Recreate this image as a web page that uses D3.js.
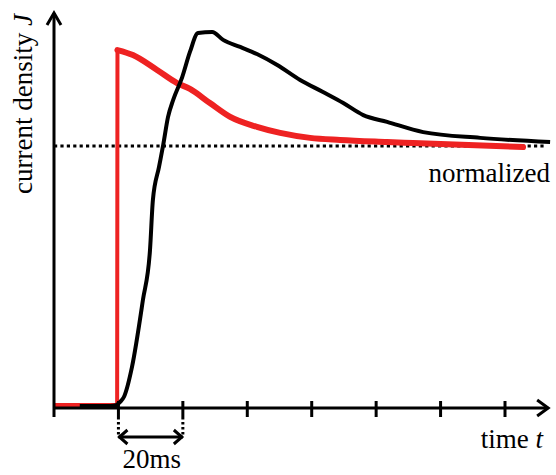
<!DOCTYPE html>
<html>
<head>
<meta charset="utf-8">
<script src="https://d3js.org/d3.v7.min.js"></script>
<style>
  body { margin: 0; background: #fff; }
  text { font-family: "Liberation Serif", "Times New Roman", serif; fill: #000; }
</style>
</head>
<body>
<svg width="556" height="475"></svg>
<script>
// time in ms, current density normalized to steady state (1 = "normalized")
const blackT = [8, 14.3, 17.4, 19.3, 20.5, 21.7, 24.2, 27.6, 29.8, 30.7, 32.6, 33.9, 35.4, 37.0, 39.8, 42.2, 44.7, 49.1, 52.5, 57.8, 63.0, 69.3, 76.4, 83.5, 89.8, 96.0, 103.4, 114.6, 132.3, 154.0];
const blackJ = [0.008, 0.008, 0.008, 0.011, 0.023, 0.042, 0.156, 0.412, 0.603, 0.794, 0.920, 1.004, 1.111, 1.176, 1.263, 1.359, 1.431, 1.435, 1.405, 1.378, 1.351, 1.309, 1.252, 1.206, 1.164, 1.118, 1.092, 1.053, 1.031, 1.015];

const redT = [0, 19.6, 19.7, 24.5, 32.0, 38.2, 42.2, 48.4, 54.7, 63.0, 70.2, 79.5, 88.8, 103.4, 111.5, 145.6];
const redJ = [0.011, 0.011, 1.366, 1.347, 1.290, 1.240, 1.218, 1.164, 1.111, 1.073, 1.050, 1.031, 1.023, 1.015, 1.011, 0.996];

const tickValues = [20, 40, 60, 80, 100, 120, 140];
const spanMarks = [20, 40];   // the "20ms" bracket
const normalizedLevel = 1;

const svg = d3.select("svg");

const x = d3.scaleLinear().domain([0, 140]).range([54, 505]);
const y = d3.scaleLinear().domain([0, 1]).range([408, 146]);

const xEnd = x(153.4);
const yTop = y(1.508);

// dotted "normalized" level
svg.append("line")
  .attr("x1", x(0)).attr("x2", xEnd - 2)
  .attr("y1", y(normalizedLevel)).attr("y2", y(normalizedLevel))
  .attr("stroke", "#000").attr("stroke-width", 3)
  .attr("stroke-dasharray", "3.2,3.2");

const line = d3.line().x(d => x(d[0])).y(d => y(d[1]));
const smooth = d3.line().x(d => x(d[0])).y(d => y(d[1])).curve(d3.curveMonotoneX);

// red curve: thin step up, thick decay
const red = redT.map((t, i) => [t, redJ[i]]);
svg.append("path")
  .attr("d", line(red.slice(0, 3)))
  .attr("fill", "none").attr("stroke", "#ee2222").attr("stroke-width", 4);
svg.append("path")
  .attr("d", smooth(red.slice(2)))
  .attr("fill", "none").attr("stroke", "#ee2222").attr("stroke-width", 6)
  .attr("stroke-linejoin", "round").attr("stroke-linecap", "round");

// black curve
const black = blackT.map((t, i) => [t, blackJ[i]]);
svg.append("path")
  .attr("d", smooth(black))
  .attr("fill", "none").attr("stroke", "#000").attr("stroke-width", 4)
  .attr("stroke-linejoin", "round");

// axes
const axis = svg.append("g").attr("stroke", "#000").attr("stroke-width", 3).attr("fill", "none");
axis.append("line").attr("x1", x(0)).attr("x2", x(0)).attr("y1", 417).attr("y2", yTop);
axis.append("line").attr("x1", x(0) - 1).attr("x2", xEnd).attr("y1", y(0)).attr("y2", y(0));
axis.append("path")
  .attr("d", `M${x(0) - 7},${yTop + 12}L${x(0)},${yTop}L${x(0) + 7},${yTop + 12}`);
axis.append("path")
  .attr("d", `M${xEnd - 11},${y(0) - 8}L${xEnd},${y(0)}L${xEnd - 11},${y(0) + 8}`);

axis.selectAll("line.tick")
  .data(tickValues)
  .enter()
  .append("line")
  .attr("class", "tick")
  .attr("x1", d => x(d)).attr("x2", d => x(d))
  .attr("y1", y(0) - 7).attr("y2", y(0) + 9);

// 20ms bracket
axis.selectAll("line.guide")
  .data(spanMarks)
  .enter()
  .append("line")
  .attr("class", "guide")
  .attr("x1", d => x(d)).attr("x2", d => x(d))
  .attr("y1", y(0) + 9).attr("y2", 437)
  .attr("stroke-dasharray", "2.5,2.5");

const ya = 437;
const xa = x(spanMarks[0]), xb = x(spanMarks[1]);
axis.append("line").attr("x1", xa).attr("x2", xb).attr("y1", ya).attr("y2", ya);
axis.append("path").attr("d", `M${xa + 9},${ya - 7}L${xa + 1},${ya}L${xa + 9},${ya + 7}`);
axis.append("path").attr("d", `M${xb - 9},${ya - 7}L${xb - 1},${ya}L${xb - 9},${ya + 7}`);

// labels
svg.append("text")
  .attr("x", (xa + xb) / 2 + 1).attr("y", 468)
  .attr("text-anchor", "middle").attr("font-size", 27)
  .text("20ms");

const tl = svg.append("text")
  .attr("x", 543).attr("y", 448)
  .attr("text-anchor", "end").attr("font-size", 27);
tl.append("tspan").text("time ");
tl.append("tspan").attr("font-style", "italic").text("t");

svg.append("text")
  .attr("x", 550).attr("y", 182)
  .attr("text-anchor", "end").attr("font-size", 27)
  .text("normalized");

const yl = svg.append("text")
  .attr("transform", "translate(32,104) rotate(-90)")
  .attr("text-anchor", "middle").attr("font-size", 27);
yl.append("tspan").text("current density ");
yl.append("tspan").attr("font-style", "italic").text("J");
</script>
</body>
</html>
